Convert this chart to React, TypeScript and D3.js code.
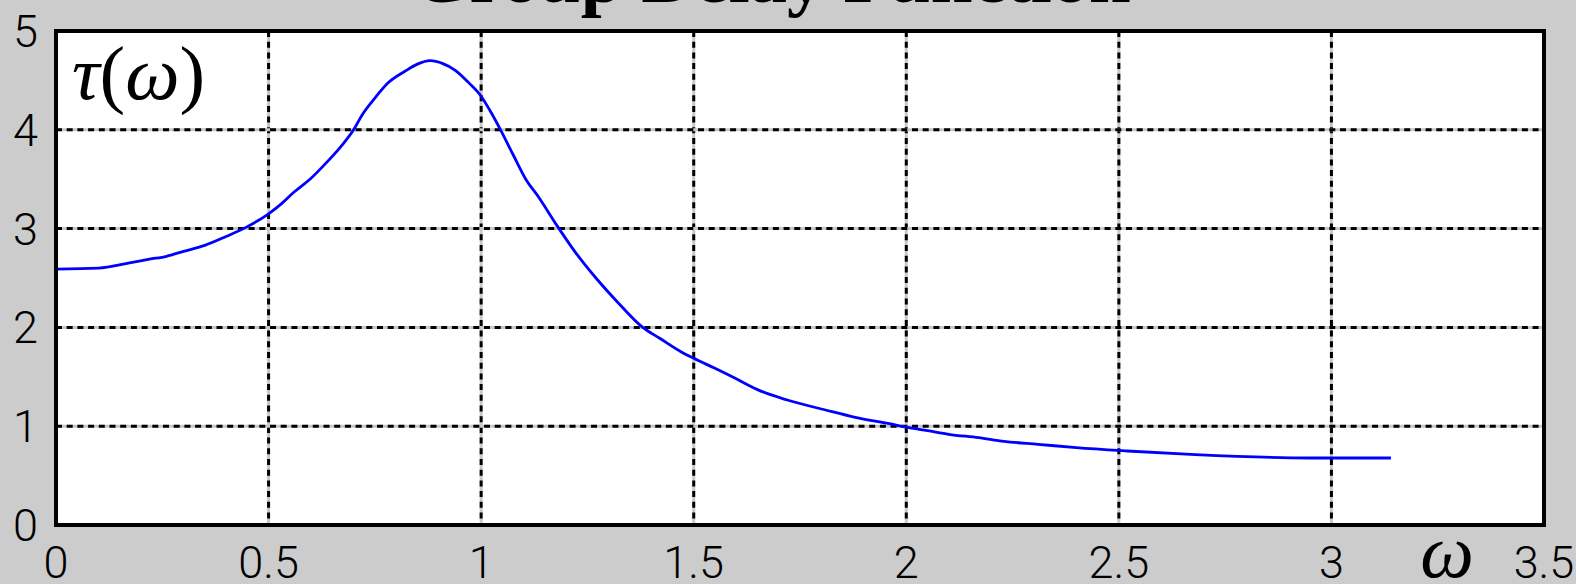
import React from "react";
import * as d3 from "d3";

const omega = [0, 0.1, 0.17, 0.22, 0.26, 0.3, 0.35, 0.4, 0.45, 0.5, 0.53, 0.56, 0.6, 0.63, 0.67, 0.7, 0.72, 0.75, 0.78, 0.82, 0.85, 0.88, 0.91, 0.94, 0.97, 1.0, 1.02, 1.045, 1.075, 1.105, 1.135, 1.18, 1.22, 1.27, 1.32, 1.38, 1.42, 1.47, 1.5, 1.55, 1.6, 1.65, 1.72, 1.81, 1.88, 1.96, 2.0, 2.05, 2.1, 2.17, 2.23, 2.31, 2.4, 2.52, 2.68, 2.95, 3.14];
const tau = [2.59, 2.6, 2.65, 2.69, 2.72, 2.77, 2.83, 2.92, 3.02, 3.15, 3.25, 3.37, 3.51, 3.64, 3.83, 4.0, 4.15, 4.32, 4.47, 4.59, 4.665, 4.7, 4.67, 4.6, 4.48, 4.34, 4.2, 4.005, 3.75, 3.5, 3.32, 3.02, 2.77, 2.5, 2.26, 2.0, 1.89, 1.754, 1.687, 1.586, 1.48, 1.37, 1.265, 1.164, 1.09, 1.025, 0.99, 0.955, 0.918, 0.884, 0.847, 0.817, 0.783, 0.749, 0.712, 0.678, 0.678];

const xTicks = [0, 0.5, 1, 1.5, 2, 2.5, 3, 3.5];
const xTickLabels = ["0", "0.5", "1", "1.5", "2", "2.5", "3", "3.5"];
const yTicks = [0, 1, 2, 3, 4, 5];
const yTickLabels = ["0", "1", "2", "3", "4", "5"];

const titleText = "Group Delay Function";

export default function App() {
  const W = 1576, H = 584;
  const left = 56, right = 1544, top = 31, bottom = 525;
  const x = d3.scaleLinear().domain([0, 3.5]).range([left, right]);
  const y = d3.scaleLinear().domain([0, 5]).range([bottom, top]);
  const pts: [number, number][] = omega.map((w, i) => [w, tau[i]]);
  const line = d3.line<[number, number]>().x(d => x(d[0])).y(d => y(d[1])).curve(d3.curveMonotoneX);
  const tickFont = "Roboto, 'Liberation Sans', sans-serif";
  const serif = "'Liberation Serif', 'Times New Roman', serif";
  return (
    <svg width={W} height={H} style={{ position: "fixed", left: 0, top: 0, display: "block" }}>
      <rect x={0} y={0} width={W} height={H} fill="#cccccc" />
      <rect x={left} y={top} width={right - left} height={bottom - top} fill="#ffffff" />
      {xTicks.slice(1, -1).map(t => (
        <g key={"gx" + t}>
          <line x1={x(t)} x2={x(t)} y1={top} y2={bottom} stroke="#c8c8c8" strokeWidth={3} />
          <line x1={x(t)} x2={x(t)} y1={top} y2={bottom} stroke="#000" strokeWidth={3} strokeDasharray="6 4.7" />
        </g>
      ))}
      {yTicks.slice(1, -1).map(t => (
        <g key={"gy" + t}>
          <line x1={left} x2={right} y1={y(t)} y2={y(t)} stroke="#c8c8c8" strokeWidth={3} />
          <line x1={left} x2={right} y1={y(t)} y2={y(t)} stroke="#000" strokeWidth={3} strokeDasharray="6 4.7" />
        </g>
      ))}
      <path d={line(pts) || ""} fill="none" stroke="#0000ff" strokeWidth={2.8} />
      <rect x={left} y={top} width={right - left} height={bottom - top} fill="none" stroke="#000" strokeWidth={4} />
      {xTicks.map((t, i) => (
        <text key={"xl" + t} x={x(t)} y={578} textAnchor="middle" fontFamily={tickFont} fontWeight={300} fontSize={45} fill="#000">
          {xTickLabels[i]}
        </text>
      ))}
      {yTicks.map((t, i) => (
        <text key={"yl" + t} x={38} y={y(t) + 16} textAnchor="end" fontFamily={tickFont} fontWeight={300} fontSize={45} fill="#000">
          {yTickLabels[i]}
        </text>
      ))}
      <text x={771} y={2} textAnchor="middle" fontFamily={serif} fontWeight="bold" fontSize={75} fill="#000">
        {titleText}
      </text>
      <text x={72} y={99} fontFamily={serif} fontSize={77} fill="#000">
        <tspan fontStyle="italic">τ</tspan>
        <tspan>(</tspan>
        <tspan fontStyle="italic">ω</tspan>
        <tspan>)</tspan>
      </text>
      <text x={1447} y={577} textAnchor="middle" fontFamily={serif} fontStyle="italic" fontSize={76} fill="#000">
        ω
      </text>
    </svg>
  );
}
